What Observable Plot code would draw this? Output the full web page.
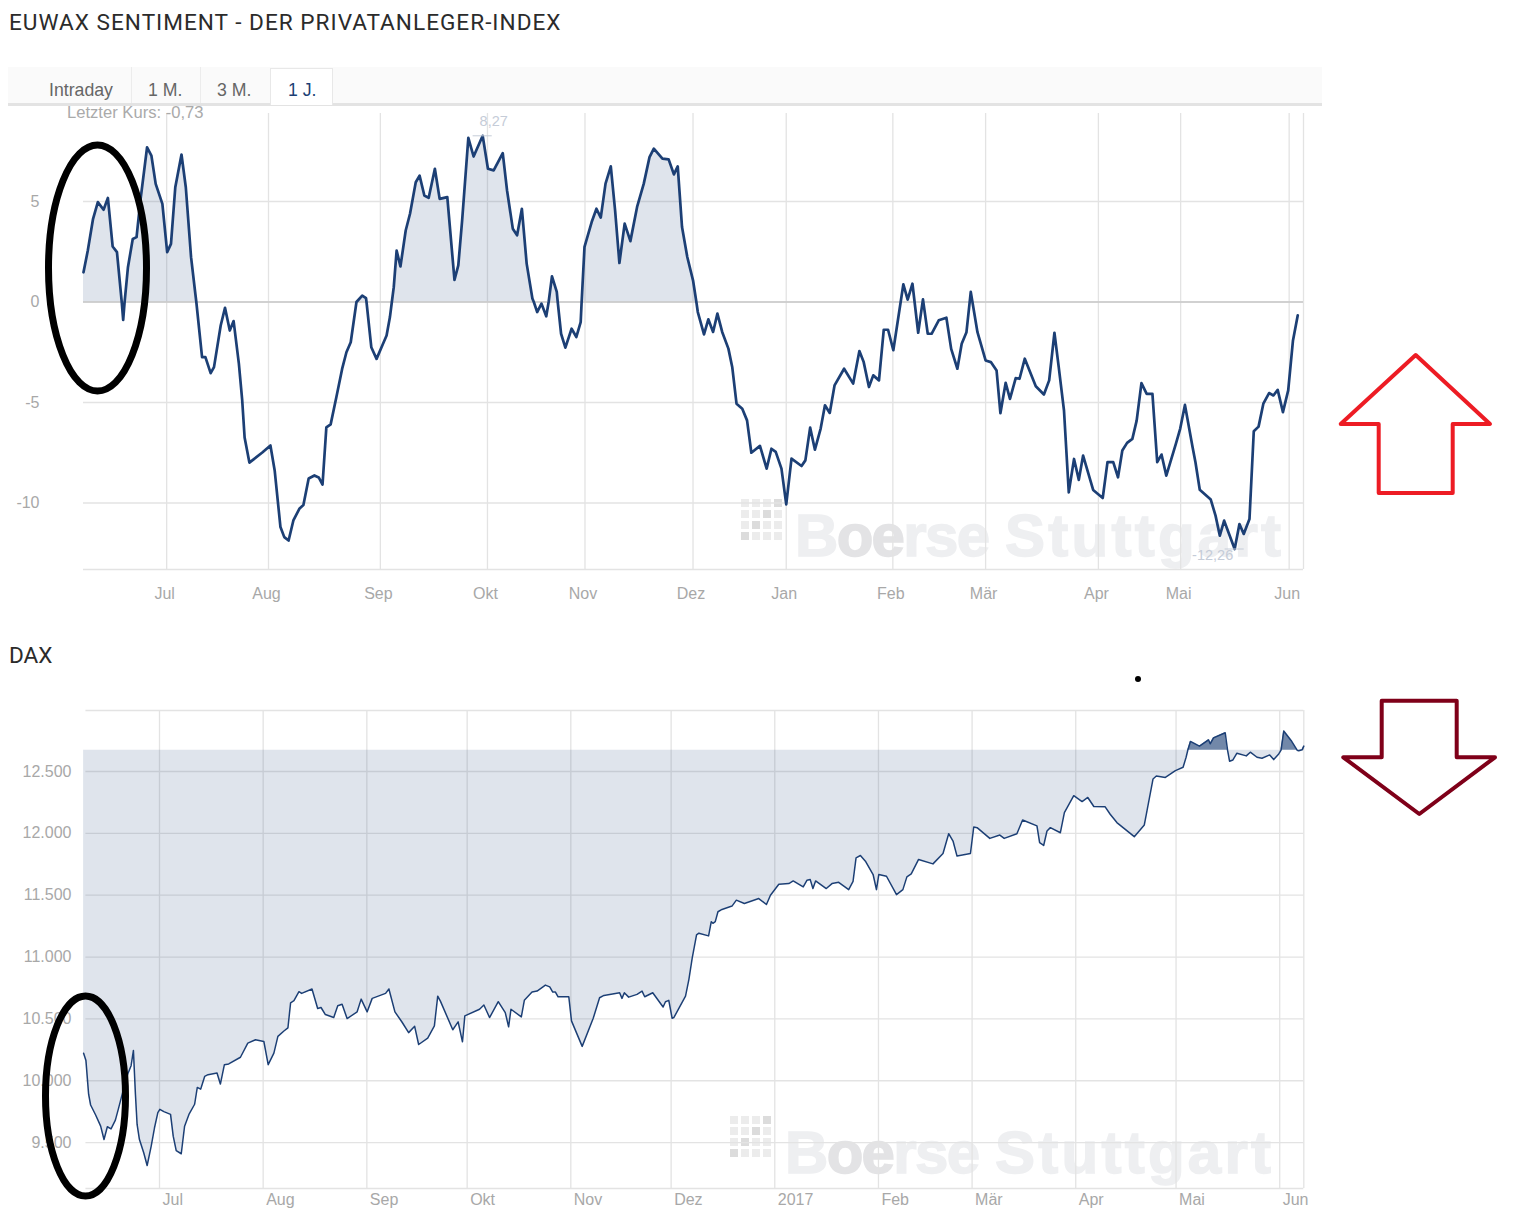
<!DOCTYPE html>
<html>
<head>
<meta charset="utf-8">
<script src="https://cdn.jsdelivr.net/npm/d3@7"></script>
<script src="https://cdn.jsdelivr.net/npm/@observablehq/plot@0.6"></script>
<style>
  body { margin: 0; background: #fff; width: 1533px; height: 1213px; position: relative; overflow: hidden; font-family: "Liberation Sans", sans-serif; }
  .abs { position: absolute; }
  .title { font-family: Roboto, sans-serif; font-size: 22.6px; color: #2b2b2b; white-space: nowrap; letter-spacing: 1px; }
  #tabs { left: 8px; top: 67px; width: 1314px; height: 36px; background: #fafafa; border-bottom: 3px solid #e3e3e3; }
  .tab { top: 85px; font-size: 17.7px; line-height: 17px; transform: translateY(-3px); color: #666; white-space: nowrap; }
  .sep { top: 67px; width: 1px; height: 36px; background: #ececec; }
  #active { left: 270px; top: 68px; width: 61px; height: 36px; background: #fff; border: 1px solid #e8e8e8; border-bottom: none; }
  #last { left: 67px; top: 103px; font-size: 16.6px; color: #aaa; white-space: nowrap; }
</style>
</head>
<body>
<div class="abs title" style="left:9px;top:9px">EUWAX SENTIMENT - DER PRIVATANLEGER-INDEX</div>
<div class="abs" id="tabs"></div>
<div class="abs sep" style="left:131px"></div>
<div class="abs sep" style="left:200px"></div>
<div class="abs" id="active"></div>
<div class="abs tab" style="left:49px">Intraday</div>
<div class="abs tab" style="left:148px">1 M.</div>
<div class="abs tab" style="left:217px">3 M.</div>
<div class="abs tab" style="left:288px;color:#1c3f75">1 J.</div>
<div class="abs title" style="left:9px;top:642px;letter-spacing:0">DAX</div>

<svg class="abs" id="watermark" style="left:0;top:0" width="1533" height="1213" font-family="Liberation Sans" font-weight="bold" font-size="60" fill="#eeeff1" stroke="#eeeff1" stroke-width="1.5">
  <text x="795" y="556" textLength="195" lengthAdjust="spacing">B<tspan fill="#e3e3e5" stroke="#e3e3e5">oe</tspan>rse</text>
  <text x="1005" y="556" textLength="276" lengthAdjust="spacing">Stuttgart</text>
  <text x="785" y="1173" textLength="195" lengthAdjust="spacing">B<tspan fill="#e3e3e5" stroke="#e3e3e5">oe</tspan>rse</text>
  <text x="995" y="1173" textLength="276" lengthAdjust="spacing">Stuttgart</text>
</svg>
<div class="abs" id="chart-euwax" style="left:0;top:100px"></div>
<div class="abs" id="chart-dax" style="left:0;top:700px"></div>
<div class="abs" id="last">Letzter Kurs: -0,73</div>

<!-- hand drawn marks on top of the charts -->
<svg class="abs" style="left:0;top:0" width="1533" height="1213" fill="none">
  <ellipse cx="97.5" cy="268" rx="49" ry="123" stroke="#000" stroke-width="7"/>
  <ellipse cx="85.5" cy="1096" rx="40" ry="100" stroke="#000" stroke-width="7"/>
  <circle cx="1138" cy="679" r="3" fill="#000"/>
  <polygon points="1415.7,355 1490,424 1452.7,424 1452.7,493 1378.7,493 1378.7,424 1340.7,424" stroke="#ed1c24" stroke-width="4" stroke-linejoin="round"/>
  <polygon points="1381.7,700.7 1456.7,700.7 1456.7,757.3 1495,757.3 1419.3,814 1343.3,757.3 1381.7,757.3" stroke="#7f0019" stroke-width="4" stroke-linejoin="round"/>
</svg>

<script>
// EUWAX sentiment, x is the trading day counted from the left edge
const euwaxDay = [
  0,0.9,2,3,4.2,5.1,6.1,7,8,8.3,8.6,9.3,10.3,11.1,11.9,13.3,14.2,15.1,16.5,17.5,18.3,19.2,20.5,21.4,22.5,23.4,23.6,24.8,25.5,26.6,27.3,28.7,29.6,30.6,31.4,32.5,33.2,
  33.7,34.7,37.4,39.1,40,41.2,42,42.9,43.9,45.2,46,47.1,48.3,49.2,50,50.8,51.7,52.9,54.1,55,55.9,57.1,58.3,59.1,59.2,60.2,61.3,62.5,63.4,64.1,64.5,64.9,65.5,66.3,67.4,68.3,
  69.5,70.3,71.3,72.2,73.5,74.5,76.1,77.6,78.4,79.2,80.5,81.6,83.5,84.6,85.8,87.7,88.6,89.8,90.7,91.7,92.7,93.9,94.2,94.9,95.8,96.8,97.3,98,99,99.2,99.9,100.8,102.1,103.1,104,104.2,104.8,
  106.3,107.3,108.2,109.2,110.3,111.2,112.1,113.2,114.4,115.8,117.2,118.4,119.3,121.1,122.4,123.5,124.3,125.2,126.3,127.5,128.2,128.5,129.8,130.7,131.7,132.6,133.6,134.9,135.7,136.6,137.8,138.8,139.7,
  141.5,142.9,143.9,144.8,146,147,148.1,150.2,151,152,153,154.2,155.1,156.1,157.1,159.1,161,162.3,163.2,164.3,165.2,166.4,167.4,168.3,169.4,171.5,172.4,173.4,174.6,175.6,176.6,177.4,178.9,
  180.5,181.5,182.8,183.7,184.7,185.6,187,188.7,189.8,191,191.8,192.9,193.8,195,195.8,196.9,199.2,200.9,202,203.1,204,205.1,206.1,207.2,208.2,209.1,211.2,213.2,214.2,215.4,216.4,217.3,218.3,
  219.4,220.3,221.3,222.4,223.6,224.6,225.5,226.5,228.5,229.4,230.4,232,232.6,233.5,235.8,236.8,237.7,238.6,240.8,241.8,242.7,243.9,244.8,245.8,246.8,248,248.9,249.8,250.9,252,253,254
];
const euwaxValue = [
  1.48,2.56,4.14,4.97,4.59,5.18,2.76,2.48,0,-0.89,0,1.73,3.14,3.23,5.05,7.7,7.29,5.88,4.88,2.48,2.89,5.71,7.34,5.71,2.23,0.4,0,-2.74,-2.74,-3.54,-3.24,-1.17,-0.29,-1.42,-0.95,-3.07,-4.9,
  -6.74,-7.99,-7.49,-7.14,-8.4,-11.2,-11.7,-11.87,-10.87,-10.27,-10.1,-8.78,-8.63,-8.73,-9.08,-6.24,-6.09,-4.73,-3.33,-2.5,-2,0,0.32,0.19,0,-2.25,-2.83,-2.16,-1.67,-0.75,0,0.74,2.56,1.77,3.56,4.39,
  5.96,6.29,5.3,5.18,6.63,5.13,5.22,1.1,1.82,4.05,8.17,7.24,8.27,6.63,6.55,7.41,5.55,3.65,3.32,4.64,1.91,0.17,0,-0.5,-0.08,-0.71,0,1.28,0.5,0,-1.58,-2.27,-1.33,-1.74,-1,0,2.74,
  3.98,4.64,4.2,5.89,6.75,4.56,1.94,3.9,3.03,4.73,5.89,7.21,7.63,7.13,7.1,6.35,6.75,3.73,2.24,1.08,0,-0.5,-1.61,-0.86,-1.49,-0.58,-1.49,-2.32,-3.23,-5.06,-5.31,-5.89,-7.5,
  -7.16,-8.29,-7.3,-7.46,-8.29,-10.07,-7.79,-8.16,-7.88,-6.25,-7.35,-6.3,-5.14,-5.52,-4.15,-3.32,-4.06,-2.44,-2.99,-4.23,-3.65,-3.9,-1.38,-1.38,-2.4,0.88,0.12,0.91,-1.53,0.13,-1.58,-1.58,-0.91,
  -0.78,-2.33,-3.32,-2.08,-1.5,0.5,-1.5,-2.91,-2.99,-3.41,-5.53,-4.02,-4.82,-3.79,-3.82,-2.82,-4.19,-4.6,-3.9,-1.53,-3.24,-5.4,-9.47,-7.81,-8.85,-7.64,-9.35,-9.75,-7.97,-7.97,-8.72,-7.39,-7.01,
  -6.81,-5.9,-4.04,-4.57,-4.57,-7.97,-7.59,-8.64,-7.06,-6.31,-5.12,-7.23,-7.97,-9.34,-9.83,-10.63,-11.63,-10.88,-12.29,-11.05,-11.54,-10.8,-6.43,-6.2,-5.06,-4.53,-4.65,-4.37,-5.48,-4.4,-1.91,-0.66
];
const euwaxMonthDay = [17.4,38.7,62.1,84.5,104.9,127.5,147,169.3,188.7,212.3,229.5,252.2,255.2];
const euwaxMonthLabel = ["Jul","Aug","Sep","Okt","Nov","Dez","Jan","Feb","Mär","Apr","Mai","Jun",""];
const euwaxValueTicks = [5,0,-5,-10];
const euwaxFillEnd = 128.2;
const euwaxHigh = {day: 83.5, value: 8.27, label: "8,27"};
const euwaxLow = {day: 240.8, value: -12.29, label: "-12,26"};

// DAX, x is the calendar day counted from the left edge
const daxDay = [
  0.3,1,1.8,2.4,3.9,5.4,6.4,7.4,8.5,9.8,10.8,12.1,13.5,14.5,15.2,15.8,16.3,17,18.3,19.3,20.5,21.5,22.5,23.1,24.3,26.3,27.1,28,29.5,30.5,31.8,33.5,34.3,35.3,36.5,37.5,40.2,41.2,42.4,43.7,47.2,49.4,
  51.7,54.2,55.5,57.2,58.4,60.2,61.4,62.2,63.2,64.7,65.5,68.6,70.3,71.3,72.6,75.1,76.3,77.6,79.1,82.1,83.3,85.1,86.6,90.6,91.6,93.4,95.5,97.5,99.3,100.5,
  103.2,105.2,106.2,107,110.7,112.3,113.6,114.3,118.7,120,121.7,124.3,126.4,127.4,128.1,131.2,132.1,134.4,135.9,138.4,139.7,140.6,141.4,142.2,145.4,146.2,149.4,152.7,154.6,155.9,160.6,161.3,162,163.3,165.8,167.3,168.1,170.5,
  173.6,174.3,175.3,176.3,176.8,180.3,181.3,182.3,183.6,184.3,187.2,188,188.5,189.2,190,191.2,194.2,195.5,197.9,202.2,204.5,205.7,208.2,211.2,212.5,215.5,216.6,217.6,218.4,219.2,222.4,224.1,226.1,229.1,
  230.4,231.3,232.6,234.1,236.4,237.4,238.1,240.4,243.4,245.3,246.5,247.8,250,254.3,257.3,259,260.3,261.5,265.5,266.5,267.5,271.3,274.3,275.6,279.4,281.1,285.4,286.2,287.4,288.4,289.4,292.4,293.6,296.4,298.9,300.6,
  302.4,305.8,307.3,309.3,314.5,317.5,318.3,320.1,321.1,323.8,326.8,329.1,330,330.5,331.3,334,336.7,337.2,338.2,341.7,342.4,343,344,345.2,348,349.2,351.2,352.7,355,356.2,357.7,358.4,359.2,361.4,363.2,363.7,364.7,365.2
];
const daxValue = [
  10223,10163,9891,9804,9723,9633,9525,9628,9611,9682,9783,9918,10054,10122,10245,9891,9647,9525,9416,9315,9470,9620,9742,9769,9750,9728,9552,9435,9410,9633,9728,9810,9946,9932,10035,10049,10062,9973,10130,10136,10190,10304,
  10331,10318,10130,10223,10359,10402,10427,10630,10647,10720,10706,10742,10584,10592,10535,10511,10606,10619,10503,10557,10660,10557,10666,10706,10742,10557,10475,10389,10440,10293,
  10345,10444,10684,10644,10412,10476,10315,10524,10578,10612,10511,10639,10551,10436,10578,10516,10650,10717,10725,10773,10759,10717,10717,10679,10679,10484,10278,10505,10671,10690,10711,10666,10711,10676,10698,10725,10679,10711,
  10596,10639,10650,10505,10511,10684,10818,10992,11179,11193,11171,11286,11273,11286,11366,11385,11412,11460,11433,11473,11425,11500,11588,11594,11615,11567,11620,11626,11554,11615,11554,11594,11604,11545,
  11612,11802,11821,11775,11667,11545,11667,11653,11504,11545,11648,11672,11789,11753,11837,11997,11938,11816,11837,12051,12046,11959,11986,11959,11997,12108,12060,11924,11902,12019,12046,12005,12168,12304,12257,12290,
  12217,12214,12154,12087,11973,12068,12182,12439,12463,12452,12507,12534,12615,12672,12743,12705,12756,12724,12772,12813,12672,12583,12593,12648,12626,12656,12615,12607,12634,12596,12642,12672,12827,12751,12672,12667,12675,12705
];
const daxMonthDay = [23,54,85,115,146,176,207,238,266,297,327,358,365.2];
const daxMonthLabel = ["Jul","Aug","Sep","Okt","Nov","Dez","2017","Feb","Mär","Apr","Mai","Jun",""];
const daxValueTicks = [12500,12000,11500,11000,10500,10000,9500];
const daxValueLabel = ["12.500","12.000","11.500","11.000","10.500","10.000","9.500"];
const daxBase = 12672;

const navy = "#1c3f75";
const gridColor = "#e3e3e3";
const labelColor = "#a8a8a8";
const plotStyle = {fontFamily: "Liberation Sans", background: "transparent", overflow: "visible"};

function createEuwaxChart() {
  const rows = euwaxDay.map((day, i) => ({day, value: euwaxValue[i]}));
  return Plot.plot({
    width: 1320,
    height: 520,
    marginTop: 13,
    marginBottom: 51,
    marginLeft: 83,
    marginRight: 17,
    style: plotStyle,
    x: {domain: [0, 255.2]},
    y: {domain: [-13.31, 9.38]},
    marks: [
      Plot.ruleX(euwaxMonthDay, {stroke: gridColor, strokeWidth: 1.3}),
      Plot.ruleY(euwaxValueTicks, {stroke: gridColor, strokeWidth: 1.3}),
      Plot.ruleY([-13.31], {stroke: gridColor, strokeWidth: 1.3}),
      Plot.areaY(rows.filter(d => d.day <= euwaxFillEnd), {x: "day", y1: 0, y2: d => Math.max(d.value, 0), fill: navy, fillOpacity: 0.14}),
      Plot.ruleY([0], {stroke: "#c9c9c9", strokeWidth: 1.5}),
      Plot.line(rows, {x: "day", y: "value", stroke: navy, strokeWidth: 2.7}),
      Plot.ruleY([euwaxHigh], {y: "value", x1: d => d.day - 2, x2: d => d.day + 2, stroke: "#c5ccd8"}),
      Plot.ruleY([euwaxLow], {y: "value", x1: d => d.day - 2, x2: d => d.day + 2, stroke: "#c5ccd8"}),
      Plot.text([euwaxHigh], {x: "day", y: "value", text: "label", dy: -14, dx: 11, fontSize: 14.5, fill: "#c5ccd8"}),
      Plot.text([euwaxLow], {x: "day", y: "value", text: "label", dy: 6, dx: -22, fontSize: 14.5, fill: "#c5ccd8"}),
      Plot.axisX(euwaxMonthDay, {tickSize: 0, tickPadding: 18, label: null, fontSize: 16, dx: -2, fill: labelColor, tickFormat: d => euwaxMonthLabel[euwaxMonthDay.indexOf(d)]}),
      Plot.axisY(euwaxValueTicks, {tickSize: 0, tickPadding: 44, label: null, fontSize: 16, fill: labelColor, tickFormat: d => String(d)})
    ]
  });
}

function createDaxChart() {
  const rows = daxDay.map((day, i) => ({day, value: daxValue[i]}));
  return Plot.plot({
    width: 1320,
    height: 513,
    marginTop: 10,
    marginBottom: 25,
    marginLeft: 83,
    marginRight: 16.7,
    style: plotStyle,
    x: {domain: [0.27, 365.2]},
    y: {domain: [9129, 12993]},
    marks: [
      Plot.ruleX(daxMonthDay, {stroke: gridColor, strokeWidth: 1.3}),
      Plot.ruleY(daxValueTicks.concat([12993, 9129]), {x1: 1, x2: 365.2, stroke: gridColor, strokeWidth: 1.3}),
      Plot.areaY(rows, {x: "day", y1: daxBase, y2: d => Math.min(d.value, daxBase), fill: navy, fillOpacity: 0.14}),
      Plot.areaY(rows, {x: "day", y1: daxBase, y2: d => Math.max(d.value, daxBase), fill: navy, fillOpacity: 0.62}),
      Plot.line(rows, {x: "day", y: "value", stroke: navy, strokeWidth: 1.5}),
      Plot.axisX(daxMonthDay, {tickSize: 0, tickPadding: 5, label: null, fontSize: 16, fill: labelColor, textAnchor: "start", dx: 3, tickFormat: d => daxMonthLabel[daxMonthDay.indexOf(d)]}),
      Plot.axisY(daxValueTicks, {tickSize: 0, tickPadding: 12, label: null, fontSize: 16, fill: labelColor, tickFormat: d => daxValueLabel[daxValueTicks.indexOf(d)]})
    ]
  });
}

// watermark dots of the exchange logo
const watermark = d3.select("#watermark");
[[741, 499], [730, 1116]].forEach(([x0, y0]) => {
  for (let i = 0; i < 4; i++) {
    for (let j = 0; j < 4; j++) {
      watermark.append("rect")
        .attr("x", x0 + i * 11).attr("y", y0 + j * 11)
        .attr("width", 8).attr("height", 8)
        .attr("stroke", "none")
        .attr("fill", i + j === 3 ? "#dcdcdc" : "#ececec");
    }
  }
});

d3.select("#chart-euwax").append(createEuwaxChart);
d3.select("#chart-dax").append(createDaxChart);
</script>
</body>
</html>
